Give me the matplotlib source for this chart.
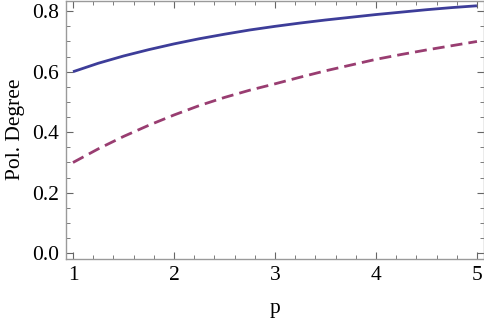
import matplotlib
matplotlib.use("Agg")
import matplotlib.pyplot as plt
from matplotlib.ticker import MultipleLocator, FormatStrFormatter

p_vals = [1.0, 1.25, 1.5, 1.75, 2.0, 2.25, 2.5, 2.75, 3.0,
          3.25, 3.5, 3.75, 4.0, 4.25, 4.5, 4.75, 5.0]
solid_vals = [0.600, 0.628, 0.652, 0.673, 0.692, 0.709, 0.724, 0.738, 0.750,
              0.761, 0.771, 0.780, 0.789, 0.797, 0.805, 0.812, 0.818]
dashed_vals = [0.300, 0.345, 0.386, 0.423, 0.457, 0.488, 0.515, 0.539, 0.560,
               0.582, 0.603, 0.622, 0.641, 0.657, 0.672, 0.686, 0.700]
x_ticks = [1, 2, 3, 4, 5]
y_ticks = [0.0, 0.2, 0.4, 0.6, 0.8]

plt.rcParams['font.family'] = ['Liberation Serif', 'DejaVu Serif']

fig = plt.figure(figsize=(4.85, 3.19), dpi=100)
ax = fig.add_axes([0.1355, 0.189, 0.998 - 0.1355, 1.0 - 0.189 - 0.002])

ax.plot(p_vals, solid_vals, color=(0.24, 0.24, 0.6), lw=2.0, solid_capstyle='butt')
ax.plot(p_vals, dashed_vals, color=(0.6, 0.24, 0.442), lw=2.0, ls=(0, (4.3, 2.2)),
        dash_capstyle='butt')

ax.set_xlim(0.928, 5.07)
ax.set_ylim(-0.018, 0.835)
ax.set_xticks(x_ticks)
ax.set_yticks(y_ticks)
ax.yaxis.set_major_formatter(FormatStrFormatter('%.1f'))
ax.xaxis.set_minor_locator(MultipleLocator(0.2))
ax.yaxis.set_minor_locator(MultipleLocator(0.05))

frame_col = '#9a9a9a'
for s in ax.spines.values():
    s.set_color(frame_col)
    s.set_linewidth(1.0)
ax.tick_params(which='both', direction='in', top=True, right=True, color='#666666',
               labelsize=15.5, labelcolor='black')
ax.tick_params(which='major', length=5, width=0.8)
ax.tick_params(which='minor', length=3, width=0.6)
ax.tick_params(axis='x', pad=5)
ax.tick_params(axis='y', pad=5)

ax.set_xlabel('p', fontsize=15.5, labelpad=10)
ax.set_ylabel('Pol. Degree', fontsize=15.5, labelpad=5)

fig.savefig('out.png', dpi=100)
